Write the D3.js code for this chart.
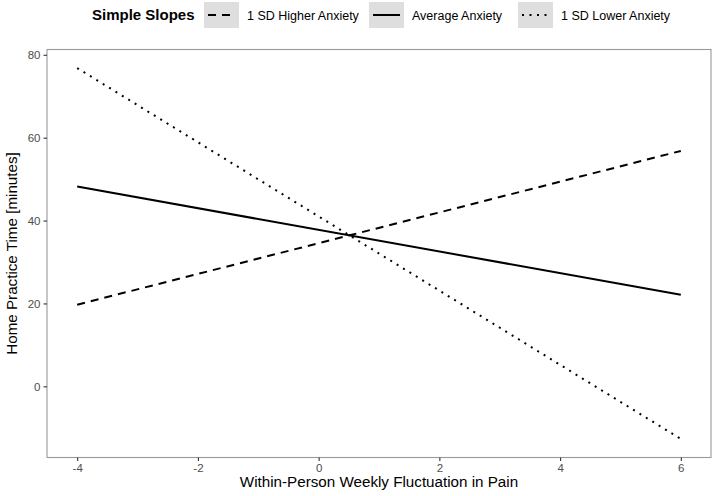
<!DOCTYPE html>
<html><head><meta charset="utf-8">
<script src="https://cdn.jsdelivr.net/npm/d3@7"></script>
<style>body{margin:0;background:#fff}svg{display:block;font-family:"Liberation Sans",Arial,Helvetica,sans-serif}</style>
</head><body>
<script>
const seriesNames = ["1 SD Higher Anxiety", "Average Anxiety", "1 SD Lower Anxiety"];
const xValues = [-4, 6];
const higherValues = [19.7, 56.8];
const averageValues = [48.2, 22.1];
const lowerValues = [76.8, -12.7];
const xTicks = [-4, -2, 0, 2, 4, 6];
const yTicks = [0, 20, 40, 60, 80];

const W = 714, H = 496;
const m = {left: 47, right: 3, top: 49.5, bottom: 38.5};
const svg = d3.select("body").append("svg").attr("width", W).attr("height", H);

const x = d3.scaleLinear().domain([-4.5, 6.5]).range([m.left, W - m.right]);
const y = d3.scaleLinear().domain([-17.175, 81.275]).range([H - m.bottom, m.top]);

const dashes = ["8,6", null, "2,5.5"];
const series = [higherValues, averageValues, lowerValues].map((v, i) => ({name: seriesNames[i], values: v, dash: dashes[i]}));

const line = d3.line().x(d => x(d[0])).y(d => y(d[1]));
series.forEach(s => {
  svg.append("path")
    .datum(xValues.map((xv, j) => [xv, s.values[j]]))
    .attr("d", line).attr("fill", "none").attr("stroke", "#000")
    .attr("stroke-width", 2).attr("stroke-dasharray", s.dash);
});

// panel border
svg.append("rect").attr("x", m.left).attr("y", m.top)
  .attr("width", W - m.right - m.left).attr("height", H - m.bottom - m.top)
  .attr("fill", "none").attr("stroke", "#9a9a9a").attr("stroke-width", 1.1);

// axes
const fmt = d => String(d);
const xAxis = svg.append("g").attr("transform", `translate(0,${H - m.bottom})`)
  .call(d3.axisBottom(x).tickValues(xTicks).tickSize(3.5).tickPadding(3).tickFormat(fmt));
const yAxis = svg.append("g").attr("transform", `translate(${m.left},0)`)
  .call(d3.axisLeft(y).tickValues(yTicks).tickSize(3.5).tickPadding(3).tickFormat(fmt));
[xAxis, yAxis].forEach(a => {
  a.select(".domain").remove();
  a.selectAll(".tick line").attr("stroke", "#333").attr("stroke-width", 1.1);
  a.selectAll(".tick text").attr("fill", "#4d4d4d").attr("font-size", 11.5).attr("font-family", "Liberation Sans, Arial, sans-serif");
});

// axis titles
svg.append("text").attr("x", (m.left + W - m.right) / 2).attr("y", 487)
  .attr("text-anchor", "middle").attr("font-size", 15.2).attr("fill", "#000")
  .text("Within-Person Weekly Fluctuation in Pain");
svg.append("text").attr("transform", `translate(17,${(m.top + H - m.bottom) / 2}) rotate(-90)`)
  .attr("text-anchor", "middle").attr("font-size", 15.2).attr("fill", "#000")
  .text("Home Practice Time [minutes]");

// legend
const lg = svg.append("g");
lg.append("text").attr("x", 92).attr("y", 20).attr("font-size", 15).attr("font-weight", "bold")
  .text("Simple Slopes");
const keyX = [204, 369, 518];
series.forEach((s, i) => {
  const kx = keyX[i];
  lg.append("rect").attr("x", kx).attr("y", 2).attr("width", 35).attr("height", 26).attr("fill", "#dedede");
  lg.append("line").attr("x1", kx + 4).attr("x2", kx + 31).attr("y1", 15).attr("y2", 15)
    .attr("stroke", "#000").attr("stroke-width", 2).attr("stroke-dasharray", s.dash);
  lg.append("text").attr("x", kx + 43).attr("y", 19.5).attr("font-size", 12.5).attr("fill", "#000").text(s.name);
});
</script>
</body></html>
